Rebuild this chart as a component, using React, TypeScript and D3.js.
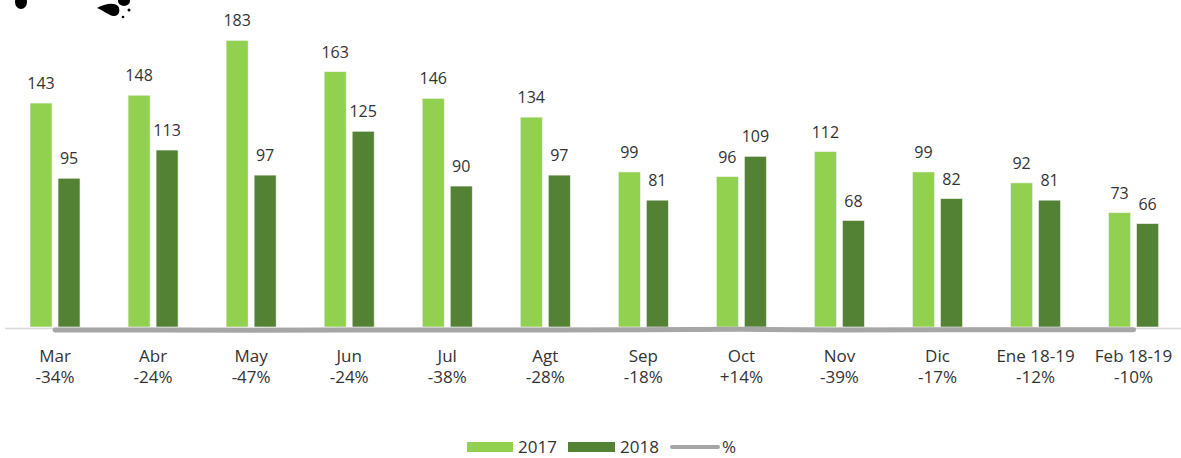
import { useRef, useEffect } from 'react';
import * as d3 from 'd3';

const MONTHS = ['Mar', 'Abr', 'May', 'Jun', 'Jul', 'Agt', 'Sep', 'Oct', 'Nov', 'Dic', 'Ene 18-19', 'Feb 18-19'];
const VALUES_2017 = [143, 148, 183, 163, 146, 134, 99, 96, 112, 99, 92, 73];
const VALUES_2018 = [95, 113, 97, 125, 90, 97, 81, 109, 68, 82, 81, 66];
const PCT = [-0.34, -0.24, -0.47, -0.24, -0.38, -0.28, -0.18, 0.14, -0.39, -0.17, -0.12, -0.1];
const PCT_LABELS = ['-34%', '-24%', '-47%', '-24%', '-38%', '-28%', '-18%', '+14%', '-39%', '-17%', '-12%', '-10%'];
const SERIES = ['2017', '2018', '%'];

const WIDTH = 1181;
const HEIGHT = 458;
const COLOR_2017 = '#92d050';
const COLOR_2018 = '#548235';
const COLOR_PCT = '#a6a6a6';
const COLOR_TEXT = '#333333';
const FONT = '"Open Sans", sans-serif';

export default function App() {
  const svgRef = useRef<SVGSVGElement>(null);

  useEffect(() => {
    document.body.style.margin = '0';
    const svg = svgRef.current;
    if (!svg) return;
    const root = d3.select(svg);
    root.selectAll('*').remove();

    const x = d3.scaleBand<string>().domain(MONTHS).range([6, 1182.6]).padding(0);
    const y = d3.scaleLinear().domain([0, 200]).range([327, 13.8]);
    const cx = (m: string) => (x(m) ?? 0) + x.bandwidth() / 2;
    const barW = 22;
    const gap = 3;

    // stray logo fragment top-left
    const blob = root.append('g').attr('fill', '#000');
    blob.append('ellipse').attr('cx', 21).attr('cy', 2).attr('rx', 6).attr('ry', 7);
    blob.append('path').attr('d', 'M97,8 C104,4 114,2 118,6 C121,10 119,17 113,16 C108,15 103,10 97,8 Z');
    blob.append('ellipse').attr('cx', 124).attr('cy', 1).attr('rx', 6).attr('ry', 5);
    blob.append('circle').attr('cx', 129).attr('cy', 10).attr('r', 1.5);
    blob.append('circle').attr('cx', 123).attr('cy', 17).attr('r', 1.3);

    // axis line
    root.append('line')
      .attr('x1', 5).attr('x2', WIDTH)
      .attr('y1', y(0) + 1.5).attr('y2', y(0) + 1.5)
      .attr('stroke', '#d9d9d9').attr('stroke-width', 1.5);

    // bars
    const series = [
      { values: VALUES_2017, color: COLOR_2017, dx: -gap - barW },
      { values: VALUES_2018, color: COLOR_2018, dx: gap },
    ];
    series.forEach((s) => {
      root.append('g')
        .selectAll('rect')
        .data(MONTHS)
        .join('rect')
        .attr('x', (m) => cx(m) + s.dx)
        .attr('y', (_, i) => y(s.values[i]))
        .attr('width', barW)
        .attr('height', (_, i) => y(0) - y(s.values[i]))
        .attr('fill', s.color)
        .attr('stroke', '#f2f2f2')
        .attr('stroke-width', 0.6);

      root.append('g')
        .selectAll('text')
        .data(MONTHS)
        .join('text')
        .attr('x', (m) => cx(m) + s.dx + barW / 2)
        .attr('y', (_, i) => y(s.values[i]) - 14)
        .attr('text-anchor', 'middle')
        .attr('fill', COLOR_TEXT)
        .attr('font-family', FONT)
        .attr('font-size', '16px')
        .text((_, i) => String(s.values[i]));
    });

    // % line (plotted on the same axis, sits on the baseline)
    const line = d3.line<number>()
      .x((_, i) => cx(MONTHS[i]))
      .y((d) => y(d));
    root.append('path')
      .datum(PCT)
      .attr('d', line)
      .attr('transform', 'translate(0,2.5)')
      .attr('fill', 'none')
      .attr('stroke', COLOR_PCT)
      .attr('stroke-width', 5)
      .attr('stroke-linecap', 'round')
      .attr('stroke-linejoin', 'round');

    // category labels
    const labels = root.append('g')
      .attr('fill', COLOR_TEXT)
      .attr('font-family', FONT)
      .attr('font-size', '17px')
      .attr('text-anchor', 'middle');
    labels.selectAll('.month')
      .data(MONTHS)
      .join('text')
      .attr('class', 'month')
      .attr('x', (m) => cx(m))
      .attr('y', 362)
      .text((m) => m);
    labels.selectAll('.pct')
      .data(MONTHS)
      .join('text')
      .attr('class', 'pct')
      .attr('x', (m) => cx(m))
      .attr('y', 383)
      .text((_, i) => PCT_LABELS[i]);

    // legend
    const legend = root.append('g')
      .attr('font-family', FONT)
      .attr('font-size', '17px')
      .attr('fill', COLOR_TEXT);
    legend.append('rect').attr('x', 467).attr('y', 442).attr('width', 46).attr('height', 10).attr('fill', COLOR_2017);
    legend.append('text').attr('x', 518).attr('y', 453).text(SERIES[0]);
    legend.append('rect').attr('x', 568).attr('y', 442).attr('width', 47).attr('height', 10).attr('fill', COLOR_2018);
    legend.append('text').attr('x', 620).attr('y', 453).text(SERIES[1]);
    legend.append('line')
      .attr('x1', 672).attr('x2', 718).attr('y1', 447).attr('y2', 447)
      .attr('stroke', COLOR_PCT).attr('stroke-width', 4).attr('stroke-linecap', 'round');
    legend.append('text').attr('x', 722).attr('y', 453).text(SERIES[2]);
  }, []);

  return (
    <svg
      ref={svgRef}
      width={WIDTH}
      height={HEIGHT}
      style={{ display: 'block', background: '#fff' }}
    />
  );
}
